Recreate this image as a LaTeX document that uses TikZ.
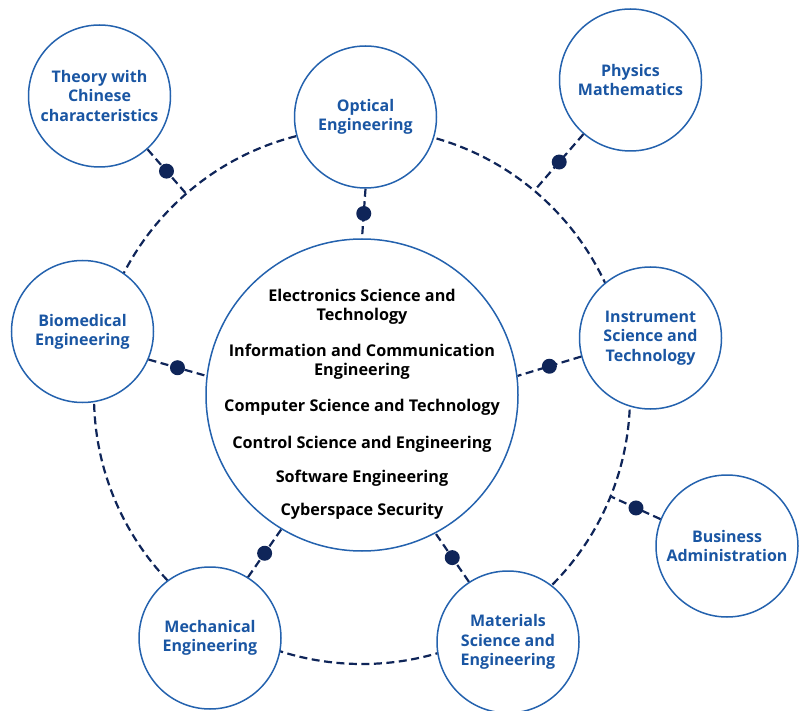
\documentclass[tikz,border=0pt]{standalone}
\usepackage{fontspec}
\setmainfont{Open Sans}
\usepackage{tikz}
\usetikzlibrary{positioning}
\definecolor{ringnavy}{HTML}{0F2559}
\definecolor{edgeblue}{HTML}{2462AE}
\definecolor{labelblue}{HTML}{1A56A3}
\begin{document}
\begin{tikzpicture}[x=1pt, y=-1pt,
    field/.style={circle, draw=edgeblue, line width=1.5pt, fill=white, minimum size=142pt, inner sep=0pt, align=center, text=labelblue, font=\fontsize{16}{19.3}\selectfont\bfseries},
    core/.style={circle, draw=edgeblue, line width=1.5pt, fill=white, minimum size=312pt, inner sep=0pt},
    ring/.style={circle, draw=ringnavy, line width=2.2pt, dash pattern=on 8pt off 4.5pt, minimum size=536pt, inner sep=0pt},
    link/.style={draw=ringnavy, line width=2.2pt, dash pattern=on 8pt off 4.5pt},
    dot/.style={circle, fill=ringnavy, minimum size=15pt, inner sep=0pt}]
      \useasboundingbox (0,0) rectangle (806,711);
      \node[ring] (ring) at (362,396) {};
      \node[core] (core) at (362,395) {};
      \node[align=center, font=\fontsize{16.2}{19}\selectfont\bfseries] (majors) at (362,404)
      {Electronics Science and\\Technology\\[17pt]
       Information and Communication\\Engineering\\[17pt]
       Computer Science and Technology\\[18pt]
       Control Science and Engineering\\[15pt]
       Software Engineering\\[14pt]
       Cyberspace Security};
      \node[field] (theory) at (99.5,96) {Theory with\\Chinese\\characteristics};
      \node[field] (optical) at (365.5,117) {Optical\\Engineering};
      \node[field] (physics) at (630.5,80) {Physics\\Mathematics};
      \node[field] (biomed) at (82.5,331.5) {Biomedical\\Engineering};
      \node[field] (instrument) at (650.5,338) {Instrument\\Science and\\Technology};
      \node[field] (business) at (727,546) {Business\\Administration};
      \node[field] (mechanical) at (210,638) {Mechanical\\Engineering};
      \node[field] (materials) at (508,642) {Materials\\Science and\\Engineering};
      \draw[link] (theory.-48) -- node[dot]{} (ring.131);
      \draw[link] (optical.south) -- node[dot]{} (core.north);
      \draw[link] (physics.229) -- node[dot]{} (ring.50);
      \draw[link] (biomed.-23) -- node[dot]{} (core.173);
      \draw[link] (instrument.195) -- node[dot]{} (core.7);
      \draw[link] (business.158) -- node[dot]{} (ring.-22);
      \draw[link] (mechanical.58) -- node[dot]{} (core.239);
      \draw[link] (materials.123) -- node[dot]{} (core.-62);
\end{tikzpicture}
\end{document}
